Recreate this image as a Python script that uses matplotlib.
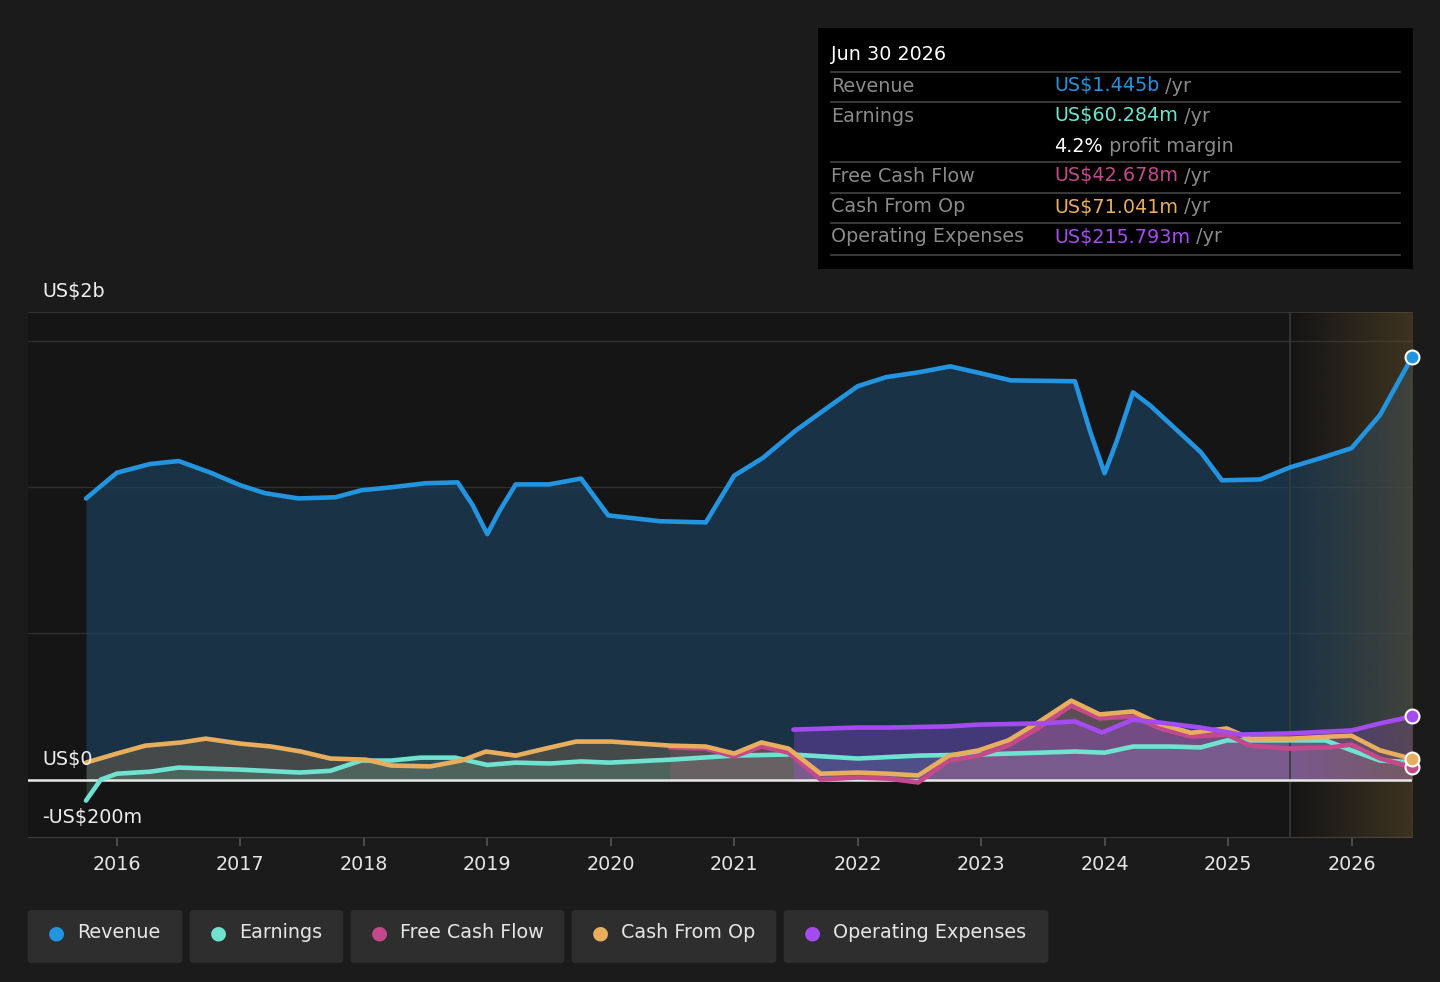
import matplotlib.pyplot as plt
import numpy as np
from matplotlib.patches import FancyBboxPatch, Rectangle

plt.rcParams['font.family'] = ['DejaVu Sans']

# values in US$ billions, x in fractional years
rev_x = [2015.75, 2016.0, 2016.27, 2016.5, 2016.76, 2017.0, 2017.2, 2017.47, 2017.77, 2017.98,
         2018.22, 2018.5, 2018.76, 2018.88, 2019.0, 2019.1, 2019.23, 2019.5, 2019.76, 2019.98,
         2020.4, 2020.77, 2021.0, 2021.23, 2021.5, 2021.78, 2022.0, 2022.23, 2022.5, 2022.75,
         2023.0, 2023.24, 2023.76, 2023.88, 2024.0, 2024.1, 2024.23, 2024.37, 2024.78, 2024.95,
         2025.26, 2025.5, 2025.75, 2026.0, 2026.23, 2026.49]
rev_y = [0.962, 1.05, 1.08, 1.09, 1.05, 1.007, 0.98, 0.962, 0.966, 0.99,
         1.0, 1.014, 1.017, 0.94, 0.84, 0.92, 1.01, 1.01, 1.03, 0.904,
         0.884, 0.88, 1.04, 1.10, 1.195, 1.28, 1.346, 1.377, 1.394, 1.414,
         1.39, 1.366, 1.363, 1.195, 1.048, 1.16, 1.325, 1.28, 1.12, 1.024,
         1.027, 1.068, 1.10, 1.134, 1.247, 1.445]

earn_x = [2015.75, 2015.87, 2016.0, 2016.27, 2016.5, 2017.0, 2017.48, 2017.73, 2017.98, 2018.22,
          2018.46, 2018.74, 2019.0, 2019.23, 2019.51, 2019.76, 2019.99, 2020.48, 2021.0, 2021.46,
          2022.0, 2022.5, 2023.0, 2023.48, 2023.76, 2024.0, 2024.23, 2024.53, 2024.78, 2024.99,
          2025.5, 2025.79, 2026.0, 2026.23, 2026.49]
earn_y = [-0.072, 0.0, 0.02, 0.027, 0.041, 0.034, 0.024, 0.03, 0.065, 0.065,
          0.075, 0.075, 0.05, 0.058, 0.055, 0.062, 0.058, 0.068, 0.082, 0.086,
          0.072, 0.082, 0.086, 0.092, 0.096, 0.092, 0.113, 0.113, 0.11, 0.134,
          0.134, 0.134, 0.10, 0.065, 0.060]

cfo_x = [2015.75, 2016.0, 2016.23, 2016.52, 2016.72, 2017.0, 2017.25, 2017.49, 2017.73, 2018.02,
         2018.22, 2018.54, 2018.79, 2018.99, 2019.23, 2019.47, 2019.72, 2020.0, 2020.24, 2020.49,
         2020.77, 2021.0, 2021.22, 2021.44, 2021.7, 2022.0, 2022.25, 2022.49, 2022.74, 2022.98,
         2023.22, 2023.46, 2023.73, 2023.96, 2024.23, 2024.45, 2024.7, 2024.99, 2025.18, 2025.5,
         2025.83, 2026.0, 2026.23, 2026.49]
cfo_y = [0.058, 0.089, 0.116, 0.127, 0.14, 0.123, 0.113, 0.096, 0.072, 0.068,
         0.048, 0.045, 0.065, 0.096, 0.082, 0.106, 0.13, 0.13, 0.123, 0.116,
         0.113, 0.089, 0.127, 0.106, 0.02, 0.024, 0.02, 0.014, 0.082, 0.10,
         0.134, 0.195, 0.27, 0.223, 0.233, 0.19, 0.16, 0.175, 0.14, 0.14,
         0.147, 0.15, 0.10, 0.071]

fcf_x = [2020.48, 2020.77, 2021.0, 2021.22, 2021.44, 2021.7, 2022.0, 2022.25, 2022.49, 2022.74,
         2022.98, 2023.22, 2023.46, 2023.73, 2023.96, 2024.23, 2024.45, 2024.7, 2024.99, 2025.18,
         2025.5, 2025.83, 2026.0, 2026.23, 2026.49]
fcf_y = [0.11, 0.106, 0.079, 0.113, 0.092, 0.0, 0.007, 0.003, -0.01, 0.065,
         0.082, 0.116, 0.175, 0.253, 0.209, 0.216, 0.175, 0.147, 0.154, 0.116,
         0.106, 0.11, 0.12, 0.072, 0.043]

opex_x = [2021.48, 2022.0, 2022.25, 2022.74, 2022.98, 2023.47, 2023.76, 2023.98, 2024.23, 2024.45,
          2024.78, 2025.1, 2025.5, 2026.0, 2026.23, 2026.49]
opex_y = [0.171, 0.178, 0.178, 0.182, 0.188, 0.192, 0.199, 0.161, 0.205, 0.195,
          0.178, 0.154, 0.158, 0.168, 0.192, 0.216]

series = [
    ("Revenue", rev_x, rev_y, "#2394df"),
    ("Earnings", earn_x, earn_y, "#6fe3cf"),
    ("Free Cash Flow", fcf_x, fcf_y, "#c4498a"),
    ("Cash From Op", cfo_x, cfo_y, "#e8ae5e"),
    ("Operating Expenses", opex_x, opex_y, "#a54cf0"),
]

W, H = 1440, 982
FS = 13.8
fig = plt.figure(figsize=(14.4, 9.82), dpi=100, facecolor="#1b1b1b")
ax = fig.add_axes([28 / W, (H - 838) / H, (1412 - 28) / W, (838 - 312) / H])
ax.set_facecolor("#151515")
ax.set_xlim(2015.28, 2026.49)
ax.set_ylim(-0.2, 1.6)

for sp in ax.spines.values():
    sp.set_visible(False)
ax.axhline(1.6, color="#3a3a3a", lw=1.2, zorder=1)
ax.axhline(-0.2, color="#3f3f3f", lw=1.5, zorder=1)
for g in [0.5, 1.0, 1.5]:
    ax.axhline(g, color="#2e2e2e", lw=1, zorder=1)

# fills
fill_alpha = {"Revenue": 0.6, "Earnings": 0.18, "Free Cash Flow": 0.2,
              "Cash From Op": 0.2, "Operating Expenses": 0.3}
fill_col = {"Revenue": "#1f4766"}
for name, xs, ys, col in series:
    ax.fill_between(xs, ys, 0, color=fill_col.get(name, col), alpha=fill_alpha[name], lw=0, zorder=2)

# forecast shading
fx0 = 2025.5
grad = np.zeros((1, 200, 4))
grad[..., 0] = 0x70 / 255
grad[..., 1] = 0x58 / 255
grad[..., 2] = 0x30 / 255
grad[..., 3] = np.linspace(0.0, 0.45, 200)
ax.imshow(grad, extent=[fx0, 2026.49, -0.2, 1.6], aspect="auto", zorder=3)
ax.axvline(fx0, color="#3a3a3a", lw=1.2, zorder=3)

ax.axhline(0, color="#e8e8e8", lw=1.8, zorder=4)

for name, xs, ys, col in series:
    ax.plot(xs, ys, color=col, lw=3.3, zorder=5, solid_joinstyle="round", solid_capstyle="round")

# end markers
for name, xs, ys, col in series:
    if name == "Earnings":
        continue
    ax.plot(xs[-1], ys[-1], "o", ms=10, mfc=col, mec="white", mew=1.5, zorder=6, clip_on=False)

ax.set_xticks(range(2016, 2027))
ax.set_xticklabels([str(y) for y in range(2016, 2027)])
ax.tick_params(axis="x", colors="#555555", length=6, width=1.2, labelcolor="#e6e6e6",
               labelsize=FS, pad=6)
ax.set_yticks([])

def fx(px):
    return px / W

def fy(py):
    return 1 - py / H

fig.text(fx(42), fy(291), "US$2b", color="#eeeeee", fontsize=FS, va="center")
fig.text(fx(42), fy(759), "US$0", color="#eeeeee", fontsize=FS, va="center", zorder=10)
fig.text(fx(42), fy(817), "-US$200m", color="#eeeeee", fontsize=FS, va="center")

# tooltip box
fig.patches.append(Rectangle((fx(818), fy(269)), fx(1413) - fx(818), fy(28) - fy(269),
                             transform=fig.transFigure, facecolor="black", edgecolor="none"))
fig.text(fx(831), fy(55), "Jun 30 2026", color="white", fontsize=FS, va="center")
for ly in [72, 102, 162, 193, 223, 255]:
    fig.add_artist(plt.Line2D([fx(831), fx(1400)], [fy(ly), fy(ly)], color="#444444", lw=1.2,
                              transform=fig.transFigure))

rows = [
    (86, "Revenue", "US$1.445b", "#2394df", " /yr"),
    (116, "Earnings", "US$60.284m", "#6fe3cf", " /yr"),
    (176, "Free Cash Flow", "US$42.678m", "#c4498a", " /yr"),
    (207, "Cash From Op", "US$71.041m", "#e8ae5e", " /yr"),
    (237, "Operating Expenses", "US$215.793m", "#a54cf0", " /yr"),
]
fig.canvas.draw()
renderer = fig.canvas.get_renderer()
for ry, lab, val, col, suf in rows:
    fig.text(fx(831), fy(ry), lab, color="#8a8a8a", fontsize=FS, va="center")
    t = fig.text(fx(1054), fy(ry), val, color=col, fontsize=FS, va="center")
    bb = t.get_window_extent(renderer)
    fig.text(bb.x1 / W, fy(ry), suf, color="#8a8a8a", fontsize=FS, va="center")
t = fig.text(fx(1054), fy(146), "4.2%", color="white", fontsize=FS, va="center")
bb = t.get_window_extent(renderer)
fig.text(bb.x1 / W, fy(146), " profit margin", color="#8a8a8a", fontsize=FS, va="center")

# legend pills
pills = [(28, 182), (190, 343), (351, 564), (572, 776), (784, 1048)]
for (x0, x1), (name, xs, ys, col) in zip(pills, series):
    fig.patches.append(FancyBboxPatch((fx(x0 + 4), fy(964) + 4 / H), fx(x1 - x0 - 8), (55 - 8) / H,
                                      boxstyle="round,pad=0.003", transform=fig.transFigure,
                                      facecolor="#2e2e2e", edgecolor="none"))
    fig.text(fx(x0 + 28), fy(933), "\u25cf", color=col, fontsize=14, va="center", ha="center")
    fig.text(fx(x0 + 49), fy(933), name, color="#e6e6e6", fontsize=FS, va="center")

fig.savefig("out.png", dpi=100, facecolor=fig.get_facecolor())
